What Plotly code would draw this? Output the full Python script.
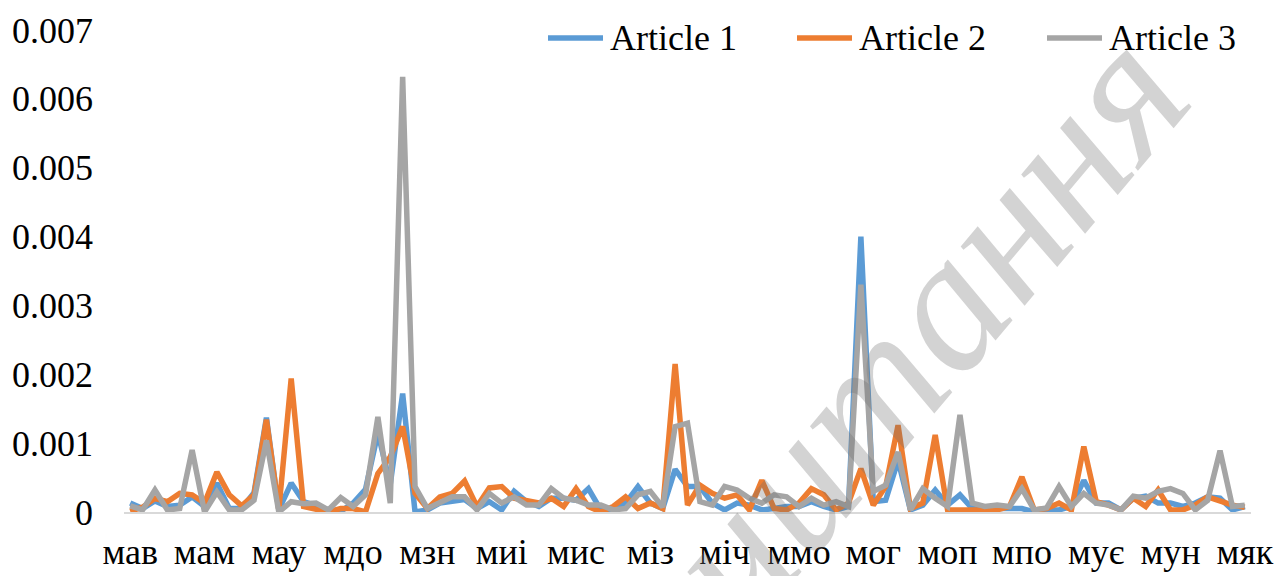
import plotly.graph_objects as go

tick_labels = ["мав", "мам", "мау", "мдо", "мзн", "миі", "мис", "міз",
               "міч", "ммо", "мог", "моп", "мпо", "мує", "мун", "мяк"]
label_step = 6
n_points = 91
positions = list(range(n_points))

article1 = [0.00013, 0.00005, 0.00016, 0.00008, 0.00010, 0.00022, 0.00008, 0.00042, 0.00005, 0.00005,
            0.00028, 0.00137, 0.00003, 0.00042, 0.00015, 0.00010, 0.00003, 0.00001, 0.00013, 0.00033,
            0.00115, 0.00040, 0.00172, 0.00000, 0.00003, 0.00013, 0.00015, 0.00018, 0.00005, 0.00015,
            0.00003, 0.00030, 0.00015, 0.00008, 0.00020, 0.00020, 0.00017, 0.00034, 0.00003, 0.00000,
            0.00013, 0.00037, 0.00013, 0.00005, 0.00062, 0.00037, 0.00037, 0.00013, 0.00003, 0.00013,
            0.00010, 0.00003, 0.00005, 0.00008, 0.00008, 0.00015, 0.00008, 0.00003, 0.00008, 0.00400,
            0.00015, 0.00017, 0.00075, 0.00003, 0.00010, 0.00032, 0.00010, 0.00025, 0.00005, 0.00003,
            0.00005, 0.00005, 0.00005, 0.00000, 0.00003, 0.00003, 0.00008, 0.00046, 0.00013, 0.00013,
            0.00003, 0.00020, 0.00023, 0.00013, 0.00013, 0.00008, 0.00013, 0.00022, 0.00020, 0.00003,
            0.00008]

article2 = [0.00001, 0.00007, 0.00020, 0.00015, 0.00027, 0.00025, 0.00013, 0.00058, 0.00025, 0.00009,
            0.00025, 0.00134, 0.00003, 0.00194, 0.00008, 0.00005, 0.00000, 0.00005, 0.00005, 0.00000,
            0.00056, 0.00080, 0.00124, 0.00027, 0.00005, 0.00022, 0.00027, 0.00045, 0.00008, 0.00035,
            0.00037, 0.00020, 0.00017, 0.00013, 0.00020, 0.00008, 0.00034, 0.00008, 0.00000, 0.00008,
            0.00022, 0.00005, 0.00013, 0.00005, 0.00215, 0.00010, 0.00039, 0.00027, 0.00020, 0.00025,
            0.00003, 0.00046, 0.00005, 0.00003, 0.00013, 0.00034, 0.00025, 0.00003, 0.00013, 0.00063,
            0.00010, 0.00037, 0.00126, 0.00005, 0.00013, 0.00112, 0.00003, 0.00003, 0.00003, 0.00002,
            0.00003, 0.00008, 0.00051, 0.00003, 0.00005, 0.00013, 0.00003, 0.00095, 0.00015, 0.00010,
            0.00003, 0.00020, 0.00008, 0.00032, 0.00003, 0.00003, 0.00010, 0.00022, 0.00015, 0.00010,
            0.00007]

article3 = [0.00009, 0.00003, 0.00032, 0.00003, 0.00005, 0.00090, 0.00000, 0.00029, 0.00003, 0.00003,
            0.00017, 0.00104, 0.00000, 0.00015, 0.00012, 0.00013, 0.00003, 0.00021, 0.00008, 0.00025,
            0.00138, 0.00013, 0.00632, 0.00037, 0.00005, 0.00013, 0.00022, 0.00022, 0.00003, 0.00027,
            0.00013, 0.00022, 0.00010, 0.00010, 0.00034, 0.00020, 0.00017, 0.00010, 0.00010, 0.00003,
            0.00005, 0.00025, 0.00030, 0.00007, 0.00124, 0.00129, 0.00015, 0.00010, 0.00037, 0.00032,
            0.00020, 0.00013, 0.00025, 0.00022, 0.00008, 0.00020, 0.00010, 0.00015, 0.00008, 0.00330,
            0.00030, 0.00039, 0.00087, 0.00003, 0.00034, 0.00020, 0.00008, 0.00141, 0.00013, 0.00008,
            0.00010, 0.00008, 0.00034, 0.00003, 0.00006, 0.00037, 0.00008, 0.00027, 0.00013, 0.00010,
            0.00003, 0.00023, 0.00020, 0.00030, 0.00034, 0.00027, 0.00003, 0.00017, 0.00089, 0.00008,
            0.00010]

series_names = ["Article 1", "Article 2", "Article 3"]
series_colors = ["#5B9BD5", "#ED7D31", "#A5A5A5"]
y_ticks = [0, 0.001, 0.002, 0.003, 0.004, 0.005, 0.006, 0.007]
y_tick_text = ["0", "0.001", "0.002", "0.003", "0.004", "0.005", "0.006", "0.007"]

FONT = "Liberation Serif"

# plot area in pixels (for paper-coordinate helpers)
PL, PR, PT, PB = 124, 1251, 30, 512


def px_x(px):
    return (px - PL) / (PR - PL)


def px_y(py):
    return (PB - py) / (PB - PT)


fig = go.Figure()
for name, vals, col in zip(series_names, [article1, article2, article3], series_colors):
    fig.add_trace(go.Scatter(x=positions, y=vals, mode="lines", name=name,
                             line=dict(color=col, width=5.5), showlegend=False))

fig.update_layout(
    width=1276, height=576,
    margin=dict(l=PL, r=1276 - PR, t=PT, b=576 - PB, autoexpand=False),
    paper_bgcolor="white", plot_bgcolor="white",
    font=dict(family=FONT, size=36, color="black"),
    showlegend=False,
    xaxis=dict(range=[-0.5, n_points - 0.5], tickmode="array",
               tickvals=positions[::label_step], ticktext=tick_labels,
               showgrid=False, zeroline=False, showline=True, linecolor="#D9D9D9", linewidth=1.5,
               ticks="", ticklabelstandoff=7,
               tickfont=dict(family=FONT, size=36, color="black")),
    yaxis=dict(range=[0, 0.007], tickmode="array", tickvals=y_ticks, ticktext=y_tick_text,
               showgrid=False, zeroline=False, showline=False, ticks="",
               ticklabelstandoff=30,
               tickfont=dict(family=FONT, size=36, color="black")),
)

# legend drawn manually (Excel-style long line samples)
legend_line_start = [548, 797, 1047]
for name, col, x0 in zip(series_names, series_colors, legend_line_start):
    fig.add_shape(type="line", xref="paper", yref="paper",
                  x0=px_x(x0), x1=px_x(x0 + 55), y0=px_y(38), y1=px_y(38),
                  line=dict(color=col, width=5.5))
    fig.add_annotation(text=name, xref="paper", yref="paper", x=px_x(x0 + 60), y=px_y(38),
                       xanchor="left", yanchor="middle", showarrow=False,
                       font=dict(family=FONT, size=36, color="black"))

# watermark
fig.add_annotation(text="<i>читання</i>", xref="paper", yref="paper", x=px_x(925), y=px_y(325),
                   xanchor="center", yanchor="middle",
                   showarrow=False, textangle=-50,
                   font=dict(family=FONT, size=190, color="rgba(110,110,110,0.3)"))

fig.write_html("out.html")
